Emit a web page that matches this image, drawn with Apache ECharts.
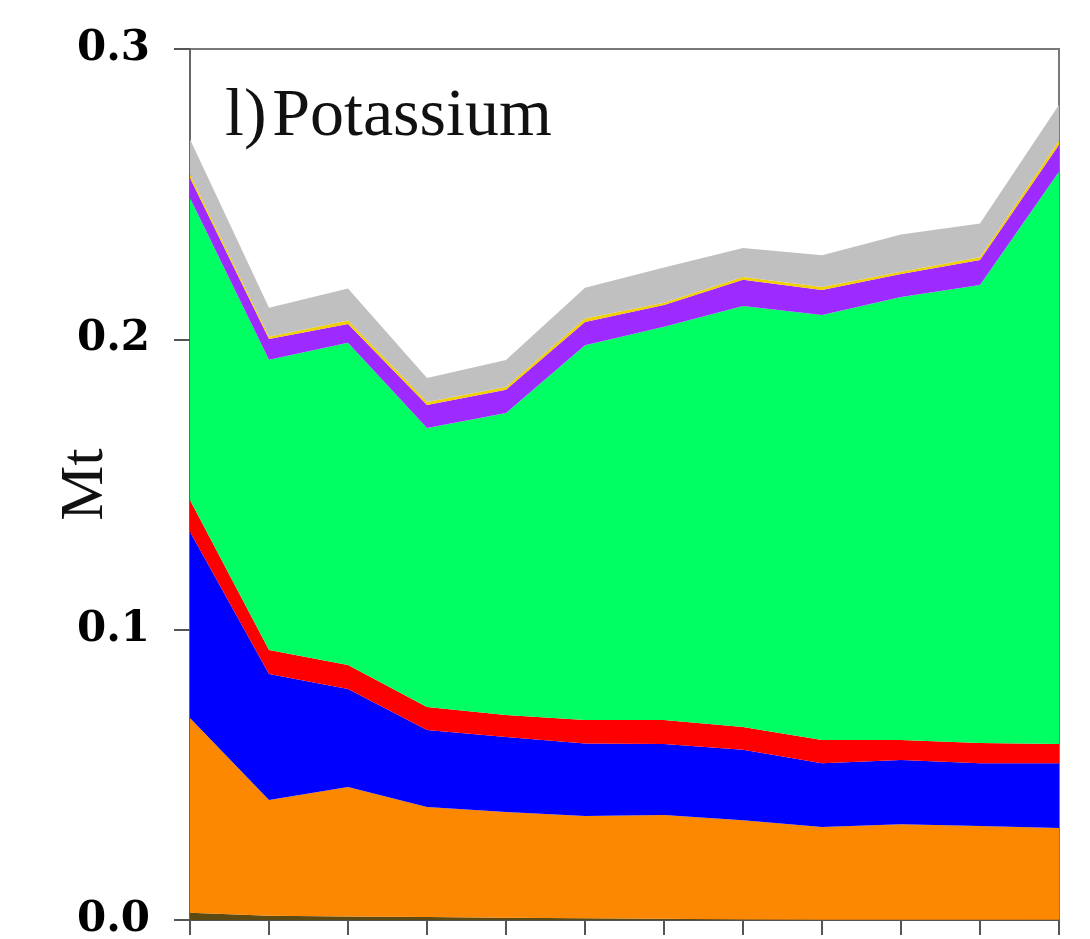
<!DOCTYPE html>
<html>
<head>
<meta charset="utf-8">
<script src="https://cdn.jsdelivr.net/npm/echarts@6/dist/echarts.min.js"></script>
<style>
html,body{margin:0;padding:0;background:#fff;}
#chart{width:1090px;height:939px;}
</style>
</head>
<body>
<div id="chart"></div>
<script>
var categories = ['1','2','3','4','5','6','7','8','9','10','11','12'];
var yTickLabels = ['0.0','0.1','0.2','0.3'];
var brown  = [0.0025,0.0015,0.0012,0.0010,0.0008,0.0006,0.0004,0.0002,0.0001,0.0001,0.0001,0.0001];
var orange = [0.0671,0.0398,0.0446,0.0379,0.0364,0.0352,0.0358,0.0342,0.0319,0.0329,0.0323,0.0316];
var blue   = [0.0641,0.0434,0.0338,0.0265,0.0258,0.0250,0.0244,0.0242,0.0220,0.0221,0.0216,0.0223];
var red    = [0.0110,0.0083,0.0082,0.0080,0.0076,0.0081,0.0083,0.0079,0.0080,0.0069,0.0070,0.0066];
var green  = [0.1040,0.1000,0.1110,0.0961,0.1040,0.1291,0.1354,0.1450,0.1464,0.1526,0.1577,0.1971];
var purple = [0.0069,0.0071,0.0065,0.0079,0.0080,0.0080,0.0075,0.0090,0.0086,0.0079,0.0086,0.0093];
var yellow = [0.0012,0.0008,0.0012,0.0010,0.0010,0.0012,0.0008,0.0010,0.0010,0.0008,0.0010,0.0015];
var gray   = [0.0121,0.0100,0.0110,0.0083,0.0093,0.0106,0.0121,0.0100,0.0110,0.0128,0.0116,0.0123];

var layers = [
  {name:'brown', data:brown, color:'#5C4A12'},
  {name:'orange', data:orange, color:'#FC8700'},
  {name:'blue', data:blue, color:'#0000FF'},
  {name:'red', data:red, color:'#FF0000'},
  {name:'green', data:green, color:'#00FF62'},
  {name:'purple', data:purple, color:'#9D2BFF'},
  {name:'yellow', data:yellow, color:'#F2D000'},
  {name:'gray', data:gray, color:'#C0C0C0'}
];

var chart = echarts.init(document.getElementById('chart'), null, {renderer:'canvas'});
chart.setOption({
  animation:false,
  backgroundColor:'#ffffff',
  title:{
    text:'l)\u200APotassium',
    left:220, top:78,
    textStyle:{fontFamily:'Liberation Serif', fontSize:68, fontWeight:'normal', color:'#111'}
  },
  grid:{left:190, right:31, top:49, bottom:19, show:true, borderColor:'#7a7a7a', borderWidth:2,
        backgroundColor:'transparent', containLabel:false, outerBoundsMode:'none'},
  xAxis:{
    type:'category', data:categories, boundaryGap:false,
    axisLine:{lineStyle:{color:'#555', width:2}},
    axisTick:{show:true, length:15, lineStyle:{color:'#555', width:2}},
    axisLabel:{show:false},
    splitLine:{show:false}
  },
  yAxis:{
    type:'value', min:0, max:0.3, interval:0.1,
    name:'Mt', nameLocation:'middle', nameGap:73, nameRotate:90, nameMoveOverlap:false,
    nameTextStyle:{fontFamily:'Liberation Serif', fontSize:62, color:'#111'},
    axisLine:{show:true, lineStyle:{color:'#666', width:2}},
    axisTick:{show:true, length:16, lineStyle:{color:'#555', width:2}},
    axisLabel:{
      margin:40, fontFamily:'DejaVu Serif', fontWeight:'bold', fontSize:42, color:'#000',
      formatter:function(v){ return yTickLabels[Math.round(v*10)]; }
    },
    splitLine:{show:false}
  },
  series: layers.map(function(l){
    return {
      name:l.name, type:'line', stack:'total', data:l.data,
      showSymbol:false, symbol:'none',
      lineStyle:{width:0, color:l.color},
      itemStyle:{color:l.color},
      areaStyle:{color:l.color, opacity:1}
    };
  })
});
</script>
</body>
</html>
